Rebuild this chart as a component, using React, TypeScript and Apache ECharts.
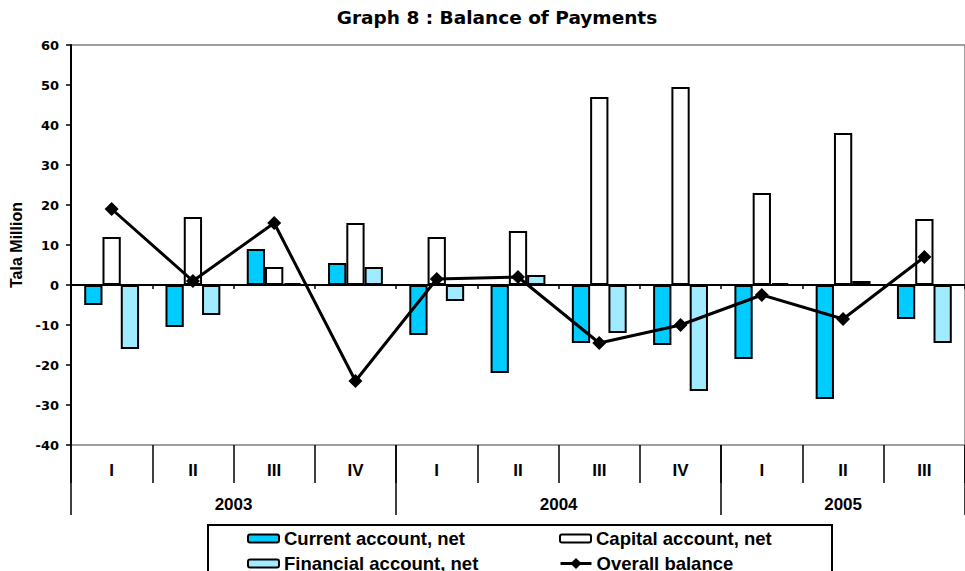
import React, { useEffect, useRef } from "react";
import * as echarts from "echarts";

const quarters = ["I", "II", "III", "IV", "I", "II", "III", "IV", "I", "II", "III"];
const years = ["2003", "2004", "2005"];
const yearSpans = [4, 4, 3];
const currentAccount = [-5, -10.5, 9, 5.5, -12.5, -22, -14.5, -15, -18.5, -28.5, -8.5];
const capitalAccount = [12, 17, 4.5, 15.5, 12, 13.5, 47, 49.5, 23, 38, 16.5];
const financialAccount = [-16, -7.5, 0.5, 4.5, -4, 2.5, -12, -26.5, 0.5, 1, -14.5];
const overallBalance = [19, 1, 15.5, -24, 1.5, 2, -14.5, -10, -2.5, -8.5, 7];
const seriesNames = ["Current account, net", "Capital account, net", "Financial account, net", "Overall balance"];

const ARIAL = "'Liberation Sans', Arial, sans-serif";
const WIDE = "'DejaVu Sans', Verdana, sans-serif";

export default function App() {
  const ref = useRef<HTMLDivElement>(null);
  useEffect(() => {
    if (!ref.current) return;
    const chart = echarts.init(ref.current, null, { renderer: "svg" });
    const bounds: number[] = [0];
    const centers: number[] = [];
    let acc = 0;
    yearSpans.forEach((s) => {
      centers.push(acc + s / 2);
      acc += s;
      bounds.push(acc);
    });
    const yearAt = (v: number) => {
      const i = centers.findIndex((c) => Math.abs(c - v) < 1e-6);
      return i >= 0 ? years[i] : "";
    };
    const barBorder = { borderColor: "#000", borderWidth: 2 };
    const legendText = { fontFamily: ARIAL, fontWeight: "bold", fontSize: 18.5, color: "#000" };
    const legendPos = [
      { left: 247, top: 529 },
      { left: 559, top: 529 },
      { left: 247, top: 554 },
      { left: 559, top: 554 },
    ];
    chart.setOption({
      animation: false,
      backgroundColor: "#fff",
      textStyle: { fontFamily: ARIAL },
      title: {
        text: "Graph 8 : Balance of Payments",
        left: 492,
        top: 3,
        textAlign: "center",
        textStyle: { fontFamily: WIDE, fontWeight: "bold", fontSize: 18.5, color: "#000" },
      },
      grid: {
        left: 71,
        top: 45,
        right: -11,
        bottom: 126,
        show: true,
        borderColor: "#808080",
        borderWidth: 1.5,
        backgroundColor: "transparent",
      },
      legend: seriesNames.map((n, i) => ({
        data: [n],
        orient: "horizontal",
        left: legendPos[i].left,
        top: legendPos[i].top,
        padding: 0,
        itemWidth: 31,
        itemHeight: i === 3 ? 14 : 8,
        lineStyle: { width: 3, color: "#000" },
        textStyle: legendText,
      })),
      graphic: [
        {
          type: "rect",
          shape: { x: 208, y: 525, width: 624, height: 70 },
          style: { fill: "none", stroke: "#000", lineWidth: 2 },
          silent: true,
        },
      ],
      xAxis: [
        {
          type: "category",
          data: quarters,
          position: "bottom",
          axisLine: { onZero: true, lineStyle: { color: "#000", width: 2 } },
          axisTick: { show: true, length: 4, lineStyle: { color: "#000", width: 1.5 } },
          axisLabel: { show: false },
          splitLine: { show: false },
        },
        {
          type: "category",
          data: quarters,
          position: "bottom",
          axisLine: { show: false, onZero: false },
          axisTick: { show: true, length: 38, lineStyle: { color: "#000", width: 1.5 } },
          axisLabel: {
            margin: 17,
            fontFamily: ARIAL,
            fontWeight: "bold",
            fontSize: 17,
            color: "#000",
          },
          splitLine: { show: false },
        },
        {
          type: "value",
          min: 0,
          max: quarters.length,
          position: "bottom",
          axisLine: { show: false, onZero: false },
          axisTick: { show: true, length: 70, customValues: bounds, lineStyle: { color: "#000", width: 1.5 } },
          axisLabel: {
            customValues: centers,
            margin: 51,
            formatter: (v: number) => yearAt(v),
            fontFamily: ARIAL,
            fontWeight: "bold",
            fontSize: 17,
            color: "#000",
          },
          splitLine: { show: false },
        },
      ],
      yAxis: {
        type: "value",
        min: -40,
        max: 60,
        interval: 10,
        name: "Tala Million",
        nameLocation: "middle",
        nameRotate: 90,
        nameGap: 44,
        nameTextStyle: { fontFamily: ARIAL, fontWeight: "bold", fontSize: 16, color: "#000" },
        axisLine: { show: true, lineStyle: { color: "#000", width: 2 } },
        axisTick: { show: true, length: 5, lineStyle: { color: "#000", width: 1.5 } },
        axisLabel: { margin: 12, fontFamily: WIDE, fontWeight: "bold", fontSize: 13, color: "#000" },
        splitLine: { show: false },
      },
      series: [
        {
          name: seriesNames[0],
          type: "bar",
          data: currentAccount,
          barGap: "0%",
          barCategoryGap: "32.5%",
          itemStyle: { color: "#00CCFF", ...barBorder },
        },
        {
          name: seriesNames[1],
          type: "bar",
          data: capitalAccount,
          itemStyle: { color: "#FFFFFF", ...barBorder },
        },
        {
          name: seriesNames[2],
          type: "bar",
          data: financialAccount,
          itemStyle: { color: "#A0EBFF", ...barBorder },
        },
        {
          name: seriesNames[3],
          type: "line",
          data: overallBalance,
          symbol: "diamond",
          symbolSize: 14,
          lineStyle: { color: "#000", width: 3 },
          itemStyle: { color: "#000" },
          z: 5,
        },
      ],
    });
    return () => chart.dispose();
  }, []);
  return (
    <div
      ref={ref}
      style={{ position: "fixed", left: 0, top: 0, width: 965, height: 571 }}
    />
  );
}
